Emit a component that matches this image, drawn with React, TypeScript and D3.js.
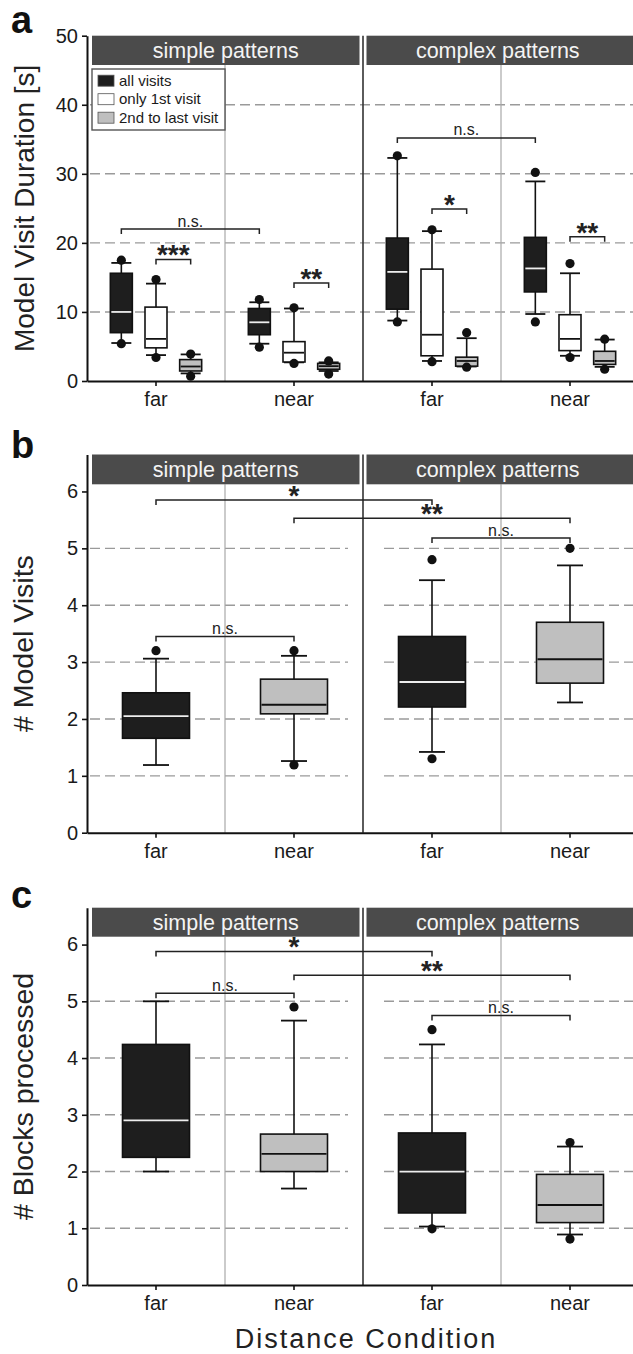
import React, { useRef, useEffect } from 'react';
import * as d3 from 'd3';

// categories and groups
const groups = ['simple patterns', 'complex patterns'];
const categories = ['far', 'near', 'far', 'near'];
const visitTypes = ['all visits', 'only 1st visit', '2nd to last visit'];

// panel a: model visit duration [s], box stats = [whiskerLow, q1, median, q3, whiskerHigh]
const durationAll = [
  [5.5, 7.0, 10.0, 15.6, 17.1],
  [5.4, 6.7, 8.5, 10.5, 11.4],
  [8.75, 10.4, 15.8, 20.7, 32.3],
  [9.7, 12.9, 16.3, 20.8, 28.9],
];
const durationAllDots = [[5.4, 17.5], [4.9, 11.8], [8.55, 32.6], [8.55, 30.2]];
const durationFirst = [
  [3.75, 4.8, 6.1, 10.7, 14.1],
  [2.7, 2.75, 4.1, 5.7, 10.5],
  [2.9, 3.65, 6.7, 16.2, 21.7],
  [3.65, 4.4, 6.1, 9.6, 15.6],
];
const durationFirstDots = [[3.4, 14.7], [2.55, 10.6], [2.8, 21.9], [3.4, 17.0]];
const durationLater = [
  [1.1, 1.45, 2.1, 3.1, 3.85],
  [1.45, 1.7, 2.15, 2.55, 2.7],
  [2.1, 2.15, 2.9, 3.45, 6.2],
  [2.05, 2.4, 2.9, 4.3, 6.0],
];
const durationLaterDots = [[0.7, 3.9], [1.0, 2.9], [2.0, 7.0], [1.7, 6.05]];
const durationTicks = [0, 10, 20, 30, 40, 50];
// [cat, series] -> [cat, series], level, label
const durationBrackets = [
  [[0, 0], [1, 0], 22.0, 'n.s.'],
  [[0, 1], [0, 2], 17.6, '***'],
  [[1, 1], [1, 2], 14.2, '**'],
  [[2, 0], [3, 0], 35.2, 'n.s.'],
  [[2, 1], [2, 2], 24.9, '*'],
  [[3, 1], [3, 2], 20.9, '**'],
];

// panel b: # model visits
const visitsStats = [
  [1.19, 1.66, 2.05, 2.46, 3.06],
  [1.26, 2.09, 2.25, 2.7, 3.11],
  [1.42, 2.21, 2.65, 3.45, 4.44],
  [2.29, 2.63, 3.05, 3.7, 4.7],
];
const visitsDots = [[null, 3.2], [1.19, 3.2], [1.3, 4.8], [null, 5.0]];
const visitsBrackets = [
  [0, 2, 5.85, '*'],
  [1, 3, 5.53, '**'],
  [0, 1, 3.45, 'n.s.'],
  [2, 3, 5.18, 'n.s.'],
];

// panel c: # blocks processed
const blocksStats = [
  [2.0, 2.25, 2.9, 4.24, 5.0],
  [1.7, 2.0, 2.31, 2.66, 4.66],
  [1.03, 1.27, 2.0, 2.68, 4.24],
  [0.89, 1.1, 1.41, 1.95, 2.44],
];
const blocksDots = [[null, null], [null, 4.9], [0.99, 4.5], [0.81, 2.51]];
const blocksBrackets = [
  [0, 2, 5.88, '*'],
  [1, 3, 5.46, '**'],
  [0, 1, 5.14, 'n.s.'],
  [2, 3, 4.75, 'n.s.'],
];
const countTicks = [0, 1, 2, 3, 4, 5, 6];

const FONT = "'Liberation Sans', Arial, sans-serif";
const DARK = '#1e1e1e';
const GREY = '#bfbfbf';

const App = () => {
  const ref = useRef(null);

  useEffect(() => {
    const W = 633, H = 1354;
    const svg = d3.select(ref.current);
    svg.selectAll('*').remove();
    svg.attr('width', W).attr('height', H);

    const left = 87, right = 639;
    const x = d3.scaleBand().domain(d3.range(4)).range([left, right]);
    const cx = (i) => x(i) + x.bandwidth() / 2;
    const inner = d3.scaleBand().domain(visitTypes).range([-52, 52]);
    const sx = (c, s) => cx(c) + inner(visitTypes[s]) + inner.bandwidth() / 2;

    const panels = [
      { letter: 'a', letterY: 33, top: 35.7, bottom: 381, max: 50, headerH: 29.3, ticks: durationTicks,
        title: 'Model Visit Duration [s]', titleX: 34, titleSize: 28, splitGrid: false },
      { letter: 'b', letterY: 458, top: 454.5, bottom: 832.7, max: 6.65, headerH: 29.8, ticks: countTicks,
        title: '# Model Visits', titleX: 33, titleSize: 28.5, splitGrid: true },
      { letter: 'c', letterY: 908, top: 907.7, bottom: 1285, max: 6.65, headerH: 29, ticks: countTicks,
        title: '# Blocks processed', titleX: 33, titleSize: 28.5, splitGrid: true },
    ];

    const boxplot = (g, y, xc, w, capW, s, dots, fill) => {
      const [lo, q1, med, q3, hi] = s;
      g.append('line').attr('x1', xc).attr('x2', xc).attr('y1', y(hi)).attr('y2', y(lo))
        .attr('stroke', '#111').attr('stroke-width', 1.6);
      [lo, hi].forEach((v) => g.append('line').attr('x1', xc - capW / 2).attr('x2', xc + capW / 2)
        .attr('y1', y(v)).attr('y2', y(v)).attr('stroke', '#111').attr('stroke-width', 1.8));
      g.append('rect').attr('x', xc - w / 2).attr('width', w).attr('y', y(q3)).attr('height', y(q1) - y(q3))
        .attr('fill', fill).attr('stroke', '#111').attr('stroke-width', 1.6);
      g.append('line').attr('x1', xc - w / 2 + 1).attr('x2', xc + w / 2 - 1).attr('y1', y(med)).attr('y2', y(med))
        .attr('stroke', fill === DARK ? '#eeeeee' : '#111').attr('stroke-width', 1.8);
      dots.filter((v) => v != null).forEach((v) => g.append('circle').attr('cx', xc).attr('cy', y(v))
        .attr('r', 4.6).attr('fill', '#111'));
    };

    const bracket = (g, y, x1, x2, v, label) => {
      const yy = y(v);
      g.append('path').attr('d', `M${x1},${yy + 5}V${yy}H${x2}V${yy + 5}`)
        .attr('fill', 'none').attr('stroke', '#222').attr('stroke-width', 1.5);
      const star = label.startsWith('*');
      g.append('text').attr('x', (x1 + x2) / 2).attr('y', star ? yy + 5 : yy - 2.5)
        .attr('text-anchor', 'middle').attr('font-family', FONT)
        .attr('font-size', star ? 28 : 16).attr('font-weight', star ? 'bold' : 'normal')
        .attr('fill', '#222').text(label);
    };

    panels.forEach((p, pi) => {
      const g = svg.append('g');
      const y = d3.scaleLinear().domain([0, p.max]).range([p.bottom, p.top]);
      const hb = p.top + p.headerH;

      // grid
      p.ticks.filter((t) => t > 0 && t < 6 || (pi === 0 && t > 0 && t < 50)).forEach((t) => {
        const segs = p.splitGrid ? [[90, 348], [384, right]] : [[90, right]];
        segs.forEach(([a, b]) => g.append('line').attr('x1', a).attr('x2', b).attr('y1', y(t)).attr('y2', y(t))
          .attr('stroke', '#9a9a9a').attr('stroke-width', 1.4).attr('stroke-dasharray', '10,5'));
      });

      // separators
      [1, 3].forEach((i) => g.append('line').attr('x1', x(i)).attr('x2', x(i))
        .attr('y1', hb).attr('y2', p.bottom).attr('stroke', '#a8a8a8').attr('stroke-width', 1.2));
      g.append('line').attr('x1', x(2)).attr('x2', x(2)).attr('y1', p.top).attr('y2', p.bottom)
        .attr('stroke', '#333').attr('stroke-width', 1.6);

      // headers
      groups.forEach((name, gi) => {
        const x1 = gi === 0 ? left + 5 : x(2) + 3.5;
        const x2 = gi === 0 ? x(2) - 3.5 : right;
        g.append('rect').attr('x', x1).attr('y', p.top).attr('width', x2 - x1).attr('height', p.headerH)
          .attr('fill', '#4b4b4b');
        g.append('text').attr('x', gi === 0 ? (x1 + x2) / 2 : (x1 + 633) / 2 - 2).attr('y', p.top + p.headerH / 2 + 7.5)
          .attr('text-anchor', 'middle').attr('font-family', FONT).attr('font-size', 21.5)
          .attr('fill', '#f4f4f4').text(name);
      });

      // axes
      const yAxis = d3.axisLeft(y).tickValues(p.ticks).tickFormat(d3.format('d'))
        .tickSize(5).tickSizeOuter(0).tickPadding(4);
      const ya = g.append('g').attr('transform', `translate(${left},0)`).call(yAxis);
      const xAxis = d3.axisBottom(x).tickSize(5).tickSizeOuter(0).tickPadding(6)
        .tickFormat((d) => categories[d]);
      const xa = g.append('g').attr('transform', `translate(0,${p.bottom})`).call(xAxis);
      [ya, xa].forEach((a) => {
        a.select('.domain').attr('stroke', '#111').attr('stroke-width', 2);
        a.selectAll('.tick line').attr('stroke', '#111').attr('stroke-width', 1.6);
        a.selectAll('text').attr('font-family', FONT).attr('font-size', 20).attr('fill', '#1a1a1a');
      });

      // boxes
      if (pi === 0) {
        const series = [
          [durationAll, durationAllDots, DARK],
          [durationFirst, durationFirstDots, '#ffffff'],
          [durationLater, durationLaterDots, GREY],
        ];
        series.forEach(([stats, dots, fill], s) => stats.forEach((st, c) =>
          boxplot(g, y, sx(c, s), 22, 20, st, dots[c], fill)));
        durationBrackets.forEach(([a, b, v, label]) => bracket(g, y, sx(a[0], a[1]), sx(b[0], b[1]), v, label));
      } else {
        const stats = pi === 1 ? visitsStats : blocksStats;
        const dots = pi === 1 ? visitsDots : blocksDots;
        stats.forEach((st, c) => boxplot(g, y, cx(c), 67, 26, st, dots[c], c % 2 === 0 ? DARK : GREY));
        (pi === 1 ? visitsBrackets : blocksBrackets).forEach(([a, b, v, label]) =>
          bracket(g, y, cx(a), cx(b), v, label));
      }

      // legend
      if (pi === 0) {
        const lg = g.append('g');
        lg.append('rect').attr('x', 92).attr('y', 69).attr('width', 133).attr('height', 61)
          .attr('fill', '#fff').attr('stroke', '#555').attr('stroke-width', 1.4);
        [DARK, '#ffffff', GREY].forEach((f, i) => {
          const ry = 80.7 + i * 18.5;
          lg.append('rect').attr('x', 98).attr('y', ry - 5.5).attr('width', 16).attr('height', 11)
            .attr('fill', f).attr('stroke', '#555').attr('stroke-width', 0.8);
          lg.append('text').attr('x', 119).attr('y', ry + 5).attr('font-family', FONT).attr('font-size', 15)
            .attr('fill', '#1a1a1a').text(visitTypes[i]);
        });
      }

      // titles
      g.append('text').attr('transform', `translate(${p.titleX},${(p.top + p.bottom) / 2}) rotate(-90)`)
        .attr('text-anchor', 'middle').attr('font-family', FONT).attr('font-size', p.titleSize)
        .attr('fill', '#222').text(p.title);
      g.append('text').attr('x', 11).attr('y', p.letterY).attr('font-family', FONT).attr('font-size', 38)
        .attr('font-weight', 'bold').attr('fill', '#111').text(p.letter);
    });

    svg.append('text').attr('x', 366).attr('y', 1348).attr('text-anchor', 'middle')
      .attr('font-family', FONT).attr('font-size', 27).attr('letter-spacing', 2)
      .attr('fill', '#222').text('Distance Condition');
  }, []);

  return <svg ref={ref} style={{ position: 'absolute', left: 0, top: 0, background: '#fff' }}></svg>;
};

export default App;
